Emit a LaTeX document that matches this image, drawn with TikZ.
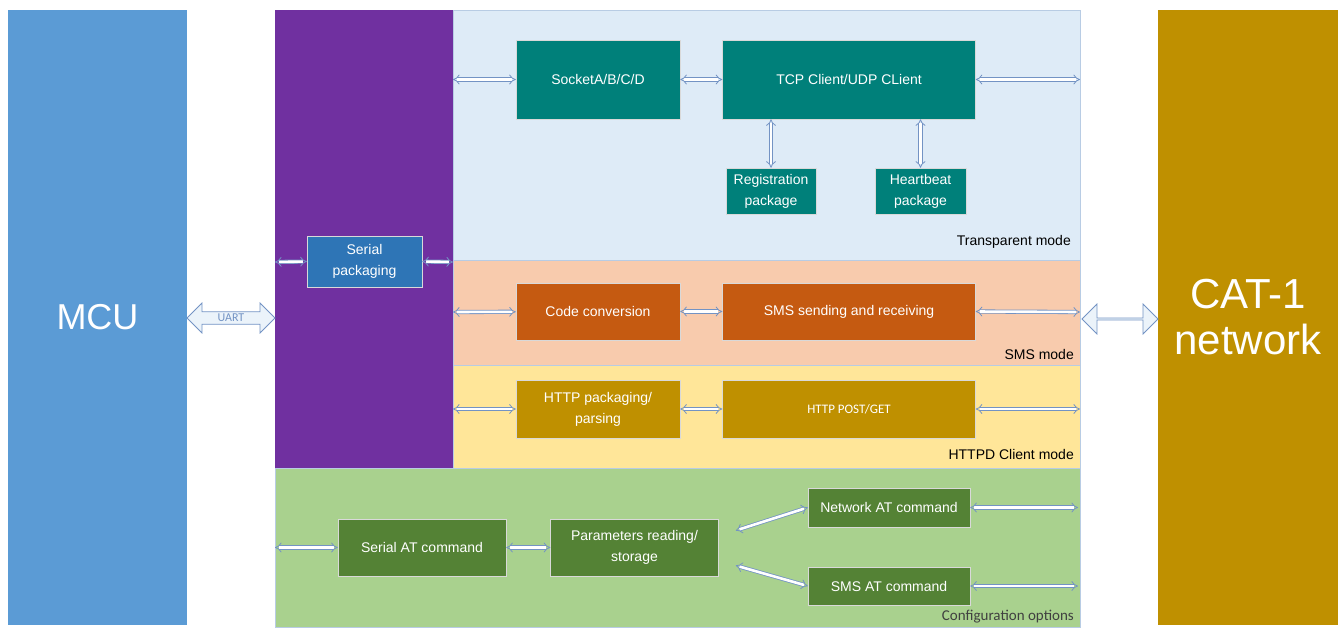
\documentclass[tikz,border=0pt]{standalone}
\usepackage{fontspec}
\setmainfont{Liberation Sans}
\newfontfamily\calibrifont{Carlito}
\usetikzlibrary{shapes.arrows, positioning, arrows.meta}

\definecolor{mcublue}{HTML}{5B9BD5}
\definecolor{stackpurple}{HTML}{7030A0}
\definecolor{transbg}{HTML}{DEEBF7}
\definecolor{smsbg}{HTML}{F8CBAD}
\definecolor{httpbg}{HTML}{FFE699}
\definecolor{cfgbg}{HTML}{A9D18E}
\definecolor{tealbox}{HTML}{00807A}
\definecolor{orangebox}{HTML}{C55A11}
\definecolor{goldbox}{HTML}{BF9000}
\definecolor{greenbox}{HTML}{548235}
\definecolor{serialblue}{HTML}{2E75B6}
\definecolor{linkblue}{HTML}{7393C4}
\definecolor{edgegray}{HTML}{B8CCE4}

\begin{document}
\begin{tikzpicture}[
            x=1pt, y=-1pt,
            panel/.style={draw=edgegray, line width=0.6pt},
            block/.style={draw=white!70!gray, line width=0.5pt, text=white, align=center, font=\fontsize{14}{21}\selectfont, inner sep=0pt},
            modelabel/.style={anchor=south east, font=\fontsize{14}{15}\selectfont, inner sep=0pt},
            link/.style={draw=linkblue, double=white, double distance=2.6pt, line width=0.8pt, {Implies}-{Implies}},
            bigarrow/.style={double arrow, draw=linkblue, fill=transbg!60, line width=0.8pt, double arrow head extend=6pt, minimum width=30pt, inner sep=0pt, text=linkblue, font=\calibrifont\fontsize{12}{13}\selectfont}
        ]
            \useasboundingbox (0,0) rectangle (1340,627);

            % Side blocks
            \node[block, fill=mcublue, draw=none, minimum width=179pt, minimum height=615pt, font=\fontsize{36}{40}\selectfont] (mcu) at (97.5,317.5) {MCU};
            \node[block, fill=goldbox, draw=none, minimum width=180pt, minimum height=615pt, font=\fontsize{42}{46}\selectfont] (cat) at (1248,317.5) {CAT-1\\network};

            % Panels
            \fill[stackpurple] (275,10) rectangle (453,468);
            \draw[panel, fill=transbg] (453,10) rectangle (1080,260);
            \draw[panel, fill=smsbg] (453,260) rectangle (1080,365);
            \draw[panel, fill=httpbg] (453,365) rectangle (1080,468);
            \draw[panel, fill=cfgbg] (275,468) rectangle (1080,627);
            \node[modelabel] (tlabel) at (1071,249) {Transparent mode};
            \node[modelabel] (slabel) at (1074,360) {SMS mode};
            \node[modelabel] (hlabel) at (1074,460) {HTTPD Client mode};
            \node[modelabel, text=black!75, font=\calibrifont\fontsize{15}{16}\selectfont] (clabel) at (1074,623) {Configuration options};

            % Serial packaging
            \node[block, fill=serialblue, minimum width=115pt, minimum height=51pt] (serial) at (364.5,261.5) {Serial\\packaging};

            % Transparent mode
            \node[block, fill=tealbox, minimum width=164pt, minimum height=79pt] (socket) at (598,79.5) {SocketA/B/C/D};
            \node[block, fill=tealbox, minimum width=253pt, minimum height=79pt, right=42pt of socket] (tcp) {TCP Client/UDP CLient};
            \node[block, fill=tealbox, minimum width=90pt, minimum height=46pt] (reg) at (771,191) {Registration\\package};
            \node[block, fill=tealbox, minimum width=91pt, minimum height=46pt] (heart) at (920.5,191) {Heartbeat\\package};

            % SMS mode
            \node[block, fill=orangebox, minimum width=164pt, minimum height=57pt] (code) at (598,311.5) {Code conversion};
            \node[block, fill=orangebox, minimum width=253pt, minimum height=57pt, right=42pt of code] (sms) {SMS sending and receiving};

            % HTTPD client mode
            \node[block, fill=goldbox, minimum width=164pt, minimum height=58pt] (hpack) at (598,409) {HTTP packaging/\\parsing};
            \node[block, fill=goldbox, minimum width=253pt, minimum height=58pt, right=42pt of hpack, font=\calibrifont\fontsize{13}{14}\selectfont] (post) {HTTP POST/GET};

            % Configuration options
            \node[block, fill=greenbox, minimum width=168pt, minimum height=57pt] (serat) at (422,547.5) {Serial AT command};
            \node[block, fill=greenbox, minimum width=168pt, minimum height=57pt, right=44pt of serat] (param) {Parameters reading/\\storage};
            \node[block, fill=greenbox, minimum width=162pt, minimum height=39pt] (netat) at (889,507.5) {Network AT command};
            \node[block, fill=greenbox, minimum width=162pt, minimum height=38pt] (smsat) at (889,586) {SMS AT command};

            % Edge points
            \coordinate (pl) at (275,262);
            \coordinate (pr) at (453,262);
            \coordinate (tin) at (453,79.5);
            \coordinate (tout) at (1080,79.5);
            \coordinate (sin) at (453,312);
            \coordinate (sout) at (1080,312);
            \coordinate (hin) at (453,409);
            \coordinate (hout) at (1080,409);
            \coordinate (cin) at (275,547.5);
            \coordinate (nout) at (1078,507.5);
            \coordinate (mout) at (1078,586);

            % Links
            \draw[link] (pl) -- (serial.west);
            \draw[link] (serial.east) -- (pr);
            \draw[link] (tin) -- (socket);
            \draw[link] (socket) -- (tcp);
            \draw[link] (tcp.east) -- (tout);
            \draw[link] (tcp.south -| reg) -- (reg);
            \draw[link] (tcp.south -| heart) -- (heart);
            \draw[link] (sin) -- (code);
            \draw[link] (code) -- (sms);
            \draw[link] (sms.east) -- (sout);
            \draw[link] (hin) -- (hpack);
            \draw[link] (hpack) -- (post);
            \draw[link] (post.east) -- (hout);
            \draw[link] (cin) -- (serat);
            \draw[link] (serat) -- (param);
            \draw[link] ([shift={(17pt,17pt)}]param.east) -- (netat.west);
            \draw[link] ([shift={(17pt,-18pt)}]param.east) -- (smsat.west);
            \draw[link] (netat.east) -- (nout);
            \draw[link] (smsat.east) -- (mout);

            % Big arrows
            \node[bigarrow, minimum height=88pt] (uart) at (231,318) {UART};
            \node[bigarrow, minimum height=76pt] (netlink) at (1120,319) {};

        \end{tikzpicture}
\end{document}
